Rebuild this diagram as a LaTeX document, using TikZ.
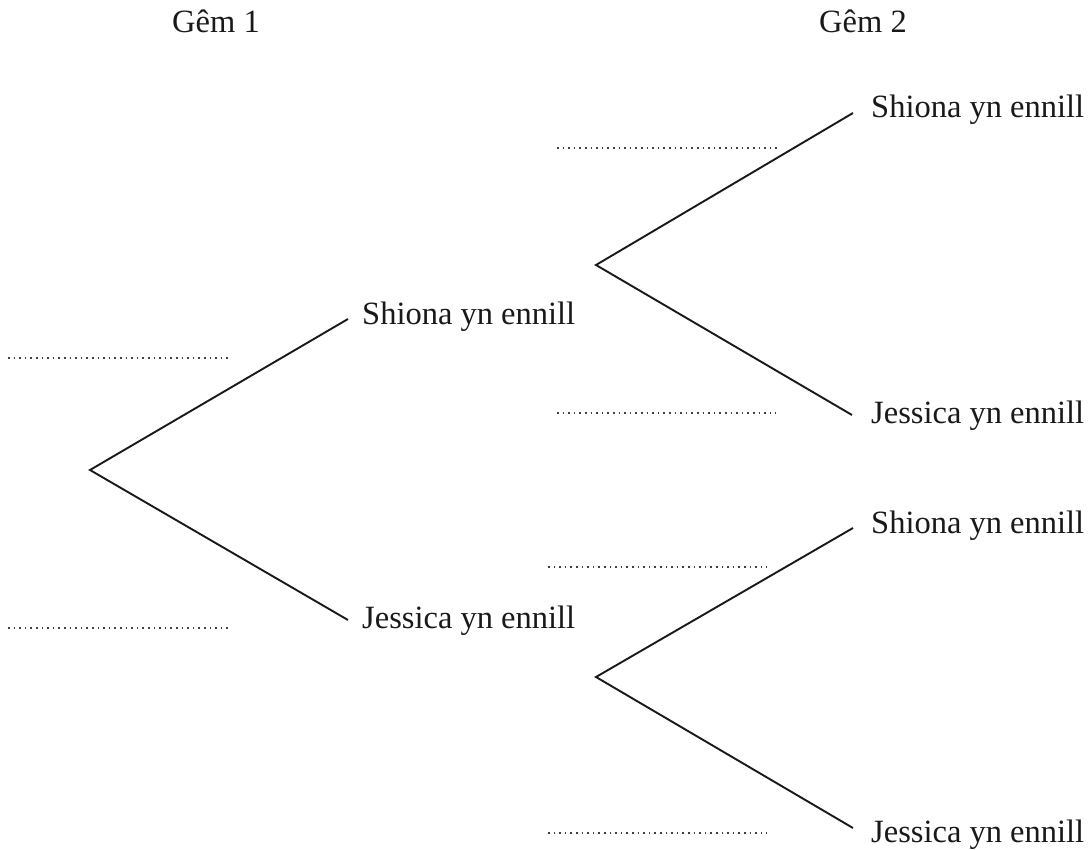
\documentclass[tikz,border=0pt]{standalone}
\usepackage{fontspec}
\setmainfont{Liberation Serif}
\begin{document}
\begin{tikzpicture}[x=1pt,y=-1pt,
  branch/.style={line width=1.9pt,black!90},
  blank/.style={line width=1.6pt,dash pattern=on 1.6pt off 4pt,black!75},
  lbl/.style={anchor=base west,inner sep=0pt,font=\fontsize{32.5}{36}\selectfont,text=black!90},
  head/.style={anchor=base,inner sep=0pt,font=\fontsize{32.5}{36}\selectfont,text=black!90}]
\useasboundingbox (0,0) rectangle (1092,850);
% headings
\node[head] (g1) at (216,33) {Gêm 1};
\node[head] (g2) at (863,33) {Gêm 2};
% tree points
\coordinate (r) at (90,470);
\coordinate (s1) at (348,319);
\coordinate (j1) at (348,620);
\coordinate (u) at (596,265);
\coordinate (us) at (853,113);
\coordinate (uj) at (852,415);
\coordinate (d) at (596,677);
\coordinate (ds) at (853,528);
\coordinate (dj) at (853,828);
% branches
\draw[branch] (s1) -- (r) -- (j1);
\draw[branch] (us) -- (u) -- (uj);
\draw[branch] (ds) -- (d) -- (dj);
% labels
\node[lbl] (ls1) at (362,324) {Shiona yn ennill};
\node[lbl] (lj1) at (362,628) {Jessica yn ennill};
\node[lbl] (lus) at (871,118) {Shiona yn ennill};
\node[lbl] (luj) at (871,423) {Jessica yn ennill};
\node[lbl] (lds) at (871,533) {Shiona yn ennill};
\node[lbl] (ldj) at (871,842) {Jessica yn ennill};
% answer blanks
\coordinate (a1) at (8,358);   \coordinate (b1) at (228,358);
\coordinate (a2) at (8,628);   \coordinate (b2) at (228,628);
\coordinate (a3) at (557,148); \coordinate (b3) at (777,148);
\coordinate (a4) at (557,413); \coordinate (b4) at (776,413);
\coordinate (a5) at (548,567); \coordinate (b5) at (767,567);
\coordinate (a6) at (548,833); \coordinate (b6) at (767,833);
\foreach \i in {1,...,6} \draw[blank] (a\i) -- (b\i);
\end{tikzpicture}
\end{document}
